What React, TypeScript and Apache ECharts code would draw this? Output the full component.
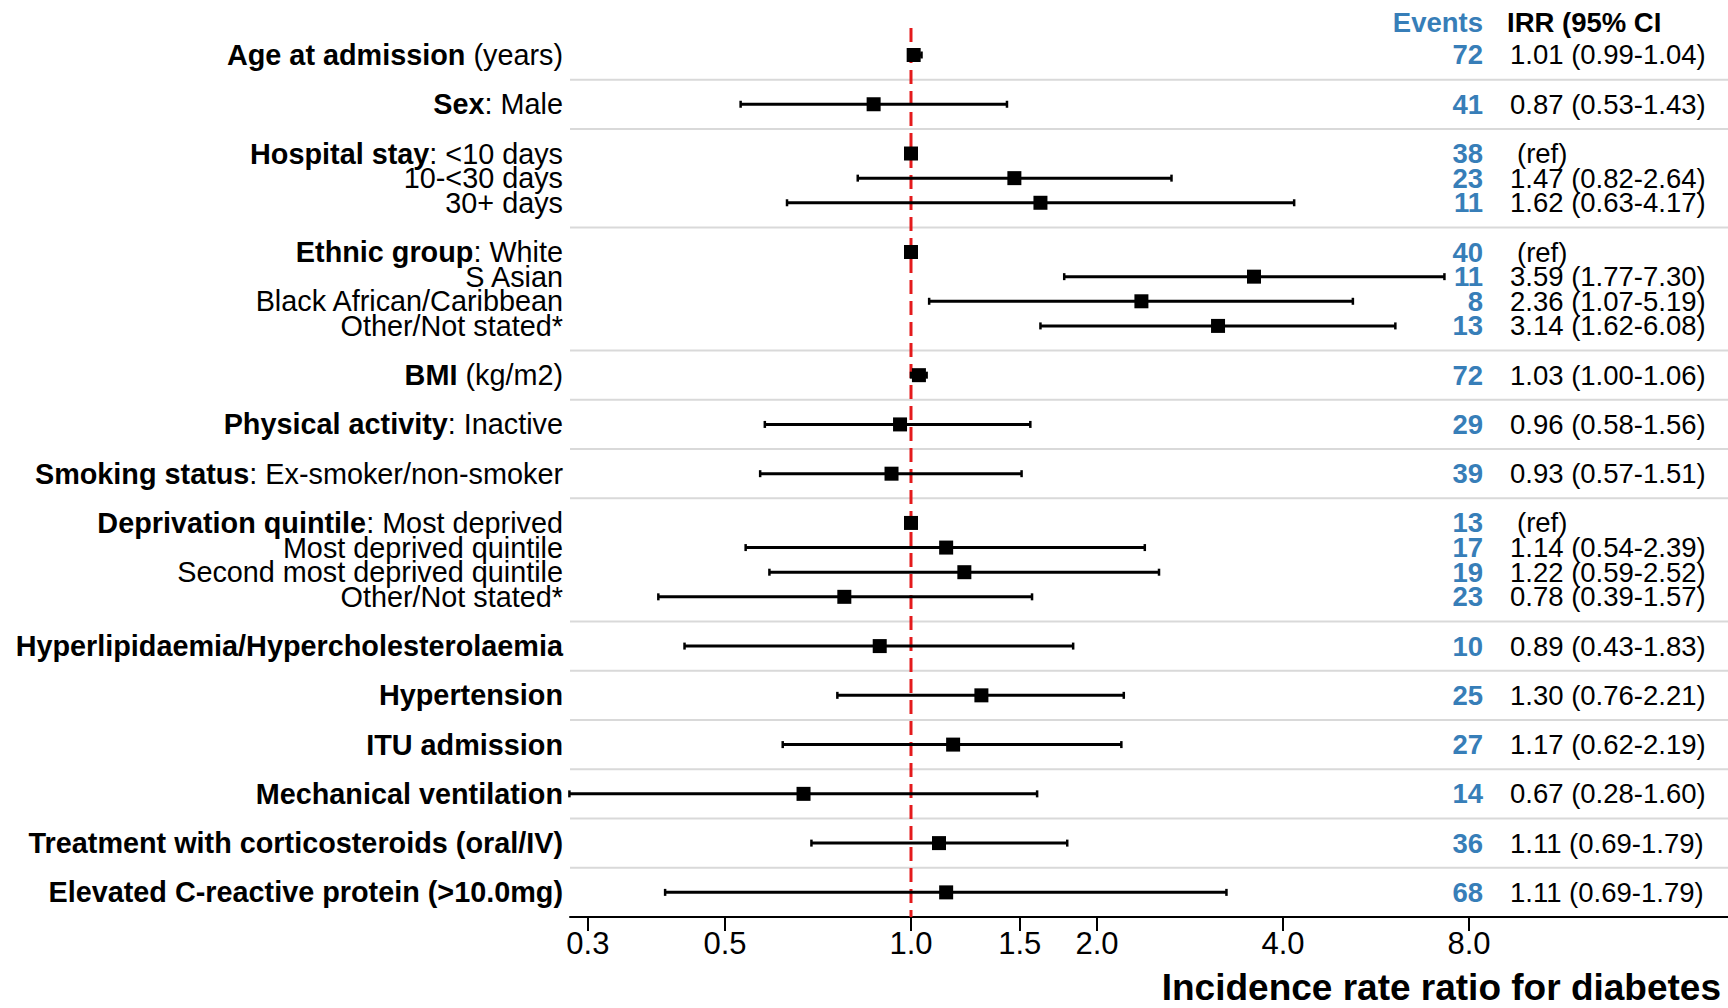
import React, { useEffect, useRef } from "react";
import * as echarts from "echarts";

// ---------- data ----------
const LABEL_BOLD = [
  "Age at admission", "Sex", "Hospital stay", "", "",
  "Ethnic group", "", "", "",
  "BMI", "Physical activity", "Smoking status",
  "Deprivation quintile", "", "", "",
  "Hyperlipidaemia/Hypercholesterolaemia", "Hypertension", "ITU admission",
  "Mechanical ventilation", "Treatment with corticosteroids (oral/IV)",
  "Elevated C-reactive protein (>10.0mg)",
];
const LABEL_REST = [
  " (years)", ": Male", ": <10 days", "10-<30 days", "30+ days",
  ": White", "S Asian", "Black African/Caribbean", "Other/Not stated*",
  " (kg/m2)", ": Inactive", ": Ex-smoker/non-smoker",
  ": Most deprived", "Most deprived quintile", "Second most deprived quintile", "Other/Not stated*",
  "", "", "", "", "", "",
];
// group each row belongs to (a blank row separates groups)
const GROUP = [0, 1, 2, 2, 2, 3, 3, 3, 3, 4, 5, 6, 7, 7, 7, 7, 8, 9, 10, 11, 12, 13];
const EST = [1.01, 0.87, 1.0, 1.47, 1.62, 1.0, 3.59, 2.36, 3.14, 1.03, 0.96, 0.93, 1.0, 1.14, 1.22, 0.78, 0.89, 1.30, 1.17, 0.67, 1.11, 1.14];
const LO = [0.99, 0.53, null, 0.82, 0.63, null, 1.77, 1.07, 1.62, 1.00, 0.58, 0.57, null, 0.54, 0.59, 0.39, 0.43, 0.76, 0.62, 0.28, 0.69, 0.40];
const HI = [1.04, 1.43, null, 2.64, 4.17, null, 7.30, 5.19, 6.08, 1.06, 1.56, 1.51, null, 2.39, 2.52, 1.57, 1.83, 2.21, 2.19, 1.60, 1.79, 3.24];
const EVENTS = [72, 41, 38, 23, 11, 40, 11, 8, 13, 72, 29, 39, 13, 17, 19, 23, 10, 25, 27, 14, 36, 68];
const IRR_TEXT = [
  "1.01 (0.99-1.04)", "0.87 (0.53-1.43)", "(ref)", "1.47 (0.82-2.64)", "1.62 (0.63-4.17)",
  "(ref)", "3.59 (1.77-7.30)", "2.36 (1.07-5.19)", "3.14 (1.62-6.08)",
  "1.03 (1.00-1.06)", "0.96 (0.58-1.56)", "0.93 (0.57-1.51)",
  "(ref)", "1.14 (0.54-2.39)", "1.22 (0.59-2.52)", "0.78 (0.39-1.57)",
  "0.89 (0.43-1.83)", "1.30 (0.76-2.21)", "1.17 (0.62-2.19)", "0.67 (0.28-1.60)",
  "1.11 (0.69-1.79)", "1.11 (0.69-1.79)",
];
const X_TICKS = [0.3, 0.5, 1.0, 1.5, 2.0, 4.0, 8.0];
const HEADER_EVENTS = "Events";
const HEADER_IRR = "IRR (95% CI";
const X_TITLE = "Incidence rate ratio for diabetes";
const REF_VALUE = 1.0;

// ---------- layout / style ----------
const FONT = "'Liberation Sans', Arial, Helvetica, sans-serif";
const BLUE = "#377EB8";
const RED = "#E41A1C";
const X_MIN = -1.8333; // log2 units
const X_MAX = 4.3925;
const Y_MIN = -2;
const Y_MAX = 35;
const EVENTS_X = 3.0753; // log2 units (right edge of events column)
const IRR_X = 3.2204; // log2 units (left edge of IRR column)
const HEADER_POS = -1.3;
const REF_TOP_POS = -1.1;
const ROW_LH = 24;

const log2 = (v: number) => Math.log(v) / Math.LN2;

const POS = GROUP.map((g, i) => i + g);
const SEPARATORS: number[] = [];
for (let i = 1; i < GROUP.length; i++) {
  if (GROUP[i] !== GROUP[i - 1]) SEPARATORS.push(POS[i] - 1);
}

export default function App() {
  const ref = useRef<HTMLDivElement>(null);

  useEffect(() => {
    document.body.style.margin = "0";
    const chart = echarts.init(ref.current!, null, { renderer: "svg" });

    const labelMap = new Map<number, string>();
    POS.forEach((p, i) => {
      let s = "";
      if (LABEL_BOLD[i]) s += `{b|${LABEL_BOLD[i]}}`;
      if (LABEL_REST[i]) s += `{r|${LABEL_REST[i]}}`;
      labelMap.set(p, s);
    });

    const forestData = POS.map((p, i) => {
      const has = LO[i] != null && HI[i] != null;
      return [
        p,
        log2(EST[i]),
        log2(has ? (LO[i] as number) : EST[i]),
        log2(has ? (HI[i] as number) : EST[i]),
        has ? 1 : 0,
      ];
    });

    const option: any = {
      animation: false,
      backgroundColor: "#ffffff",
      textStyle: { fontFamily: FONT },
      title: {
        text: X_TITLE,
        right: 7,
        top: 970,
        padding: 0,
        textStyle: { fontSize: 37, fontWeight: "bold", color: "#000", fontFamily: FONT, lineHeight: 34 },
      },
      grid: { left: 570, width: 1158, top: 5.74, height: 911.26, containLabel: false },
      xAxis: {
        type: "value",
        min: X_MIN,
        max: X_MAX,
        axisLine: { show: true, onZero: false, lineStyle: { color: "#000", width: 2 } },
        axisTick: {
          show: true,
          customValues: X_TICKS.map(log2),
          length: 14,
          lineStyle: { color: "#000", width: 2 },
        },
        axisLabel: {
          customValues: X_TICKS.map(log2),
          formatter: (v: number) => Math.pow(2, v).toFixed(1),
          fontSize: 31,
          color: "#000",
          margin: 11,
          fontFamily: FONT,
        },
        splitLine: { show: false },
      },
      yAxis: {
        type: "value",
        inverse: true,
        min: Y_MIN,
        max: Y_MAX,
        axisLine: { show: false },
        axisTick: { show: false },
        splitLine: { show: false },
        axisLabel: {
          customValues: POS,
          formatter: (v: number) => labelMap.get(Math.round(v)) || "",
          margin: 7,
          fontSize: 28.8,
          lineHeight: ROW_LH,
          color: "#000",
          fontFamily: FONT,
          rich: {
            b: { fontWeight: "bold", fontSize: 28.8, lineHeight: ROW_LH, color: "#000", fontFamily: FONT },
            r: { fontSize: 28.8, lineHeight: ROW_LH, color: "#000", fontFamily: FONT },
          },
        },
      },
      series: [
        {
          // horizontal separators between variable groups
          type: "custom",
          z: 1,
          silent: true,
          data: SEPARATORS.map((p) => [X_MIN, p]),
          encode: { x: 0, y: 1 },
          renderItem: (params: any, api: any) => {
            const p = api.value(1);
            const a = api.coord([X_MIN, p]);
            const b = api.coord([X_MAX, p]);
            return {
              type: "line",
              shape: { x1: a[0], y1: a[1], x2: b[0], y2: b[1] },
              style: { stroke: "#d9d9d9", lineWidth: 2 },
            };
          },
        },
        {
          // reference line at IRR = 1
          type: "line",
          z: 2,
          silent: true,
          symbol: "none",
          data: [
            [log2(REF_VALUE), REF_TOP_POS],
            [log2(REF_VALUE), Y_MAX],
          ],
          lineStyle: { color: RED, width: 3, type: [14, 7] },
        },
        {
          // estimates with 95% CI
          type: "custom",
          z: 3,
          silent: true,
          data: forestData,
          encode: { x: [1, 2, 3], y: 0 },
          renderItem: (params: any, api: any) => {
            const pos = api.value(0);
            const c = api.coord([api.value(1), pos]);
            const children: any[] = [];
            if (api.value(4) === 1) {
              const xl = api.coord([api.value(2), pos])[0];
              const xh = api.coord([api.value(3), pos])[0];
              children.push({
                type: "line",
                shape: { x1: xl, y1: c[1], x2: xh, y2: c[1] },
                style: { stroke: "#000", lineWidth: 3 },
              });
              [xl, xh].forEach((x) =>
                children.push({
                  type: "line",
                  shape: { x1: x, y1: c[1] - 3.5, x2: x, y2: c[1] + 3.5 },
                  style: { stroke: "#000", lineWidth: 2.5 },
                })
              );
            }
            children.push({
              type: "rect",
              shape: { x: c[0] - 7, y: c[1] - 7, width: 14, height: 14 },
              style: { fill: "#000" },
            });
            return { type: "group", children };
          },
        },
        {
          // events and IRR text columns
          type: "custom",
          z: 4,
          silent: true,
          data: POS.map((p) => [EVENTS_X, p]),
          encode: { x: 0, y: 1 },
          renderItem: (params: any, api: any) => {
            const i = params.dataIndex;
            const pos = api.value(1);
            const e = api.coord([EVENTS_X, pos]);
            const t = api.coord([IRR_X, pos]);
            const isRef = IRR_TEXT[i] === "(ref)";
            return {
              type: "group",
              children: [
                {
                  type: "text",
                  x: e[0],
                  y: e[1],
                  style: {
                    text: String(EVENTS[i]),
                    fill: BLUE,
                    fontSize: 27.5,
                    lineHeight: ROW_LH,
                    fontWeight: "bold",
                    fontFamily: FONT,
                    align: "right",
                    verticalAlign: "middle",
                  },
                },
                {
                  type: "text",
                  x: t[0] + (isRef ? 7 : 0),
                  y: t[1],
                  style: {
                    text: IRR_TEXT[i],
                    fill: "#000",
                    fontSize: 27.5,
                    lineHeight: ROW_LH,
                    fontFamily: FONT,
                    align: "left",
                    verticalAlign: "middle",
                  },
                },
              ],
            };
          },
        },
        {
          // column headers
          type: "custom",
          z: 4,
          silent: true,
          data: [[EVENTS_X, HEADER_POS]],
          encode: { x: 0, y: 1 },
          renderItem: (params: any, api: any) => {
            const e = api.coord([EVENTS_X, HEADER_POS]);
            const t = api.coord([IRR_X, HEADER_POS]);
            return {
              type: "group",
              children: [
                {
                  type: "text",
                  x: e[0],
                  y: e[1],
                  style: {
                    text: HEADER_EVENTS,
                    fill: BLUE,
                    fontSize: 27.5,
                    lineHeight: ROW_LH,
                    fontWeight: "bold",
                    fontFamily: FONT,
                    align: "right",
                    verticalAlign: "middle",
                  },
                },
                {
                  type: "text",
                  x: t[0] - 3,
                  y: t[1],
                  style: {
                    text: HEADER_IRR,
                    fill: "#000",
                    fontSize: 27.5,
                    lineHeight: ROW_LH,
                    fontWeight: "bold",
                    fontFamily: FONT,
                    align: "left",
                    verticalAlign: "middle",
                  },
                },
              ],
            };
          },
        },
      ],
    };

    chart.setOption(option);
    return () => chart.dispose();
  }, []);

  return (
    <div
      ref={ref}
      style={{ position: "fixed", left: 0, top: 0, width: 1728, height: 1008, background: "#fff" }}
    />
  );
}
